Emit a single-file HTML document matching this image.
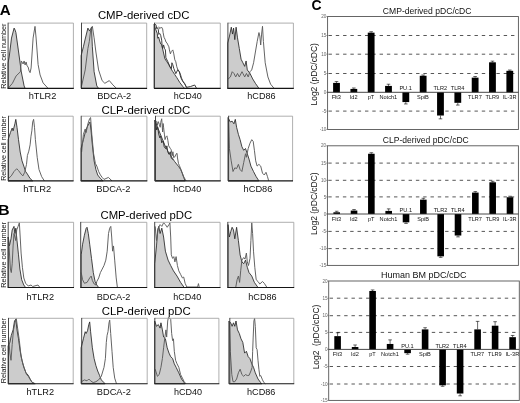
<!DOCTYPE html><html><head><meta charset="utf-8"><style>html,body{margin:0;padding:0;background:#fff;}svg{display:block;filter:blur(0.25px);}text{font-family:"Liberation Sans",sans-serif;}</style></head><body>
<svg width="520" height="403" viewBox="0 0 520 403">
<rect width="520" height="403" fill="#fff"/>
<polygon points="8.10,88.40 8.10,62.98 9.30,56.00 11.50,38.05 14.10,28.08 15.10,30.08 15.90,32.57 18.60,52.01 21.30,71.95 24.10,85.91 25.10,88.40 25.10,88.40" fill="#cccccc" stroke="#262626" stroke-width="0.85" stroke-linejoin="round"/>
<polyline points="8.10,88.40 12.40,83.32 16.10,75.94 20.40,71.75 21.30,60.98 23.10,63.97 24.10,60.98 25.10,64.97 26.10,61.98 27.10,65.97 28.10,66.97 29.10,70.95 30.10,72.65 31.10,67.96 32.10,53.01 33.10,38.05 35.00,26.39 36.10,38.05 38.10,64.57 40.10,74.94 43.10,82.92 48.10,88.40" fill="none" stroke="#5c5c5c" stroke-width="0.95" stroke-linejoin="round"/>
<path d="M8.1,23.1 H73.4 V88.4" fill="none" stroke="#9a9a9a" stroke-width="0.8"/>
<line x1="7.6" y1="88.4" x2="73.80000000000001" y2="88.4" stroke="#151515" stroke-width="1.1"/>
<line x1="8.1" y1="22.700000000000003" x2="8.1" y2="88.4" stroke="#333" stroke-width="0.9"/>
<polygon points="81.10,88.40 81.10,55.70 83.40,46.78 85.20,39.05 87.90,28.08 89.60,31.08 91.50,27.19 92.35,46.78 94.10,71.70 96.80,85.91 98.60,88.40 98.60,88.40" fill="#cccccc" stroke="#262626" stroke-width="0.85" stroke-linejoin="round"/>
<polyline points="81.60,85.91 85.20,69.96 87.90,48.52 89.30,41.44 90.60,30.78 92.35,26.29 94.10,37.85 95.90,52.01 98.60,69.96 102.10,80.62 104.85,83.32 107.10,81.92 109.30,80.62 112.90,84.91 116.50,88.40" fill="none" stroke="#5c5c5c" stroke-width="0.95" stroke-linejoin="round"/>
<path d="M81.5,23.1 H146.7 V88.4" fill="none" stroke="#9a9a9a" stroke-width="0.8"/>
<line x1="81.0" y1="88.4" x2="147.1" y2="88.4" stroke="#151515" stroke-width="1.1"/>
<line x1="81.5" y1="22.700000000000003" x2="81.5" y2="88.4" stroke="#333" stroke-width="0.9"/>
<polygon points="154.10,88.40 154.10,24.30 155.60,29.08 157.30,33.47 157.80,38.25 158.60,37.06 159.70,41.05 160.70,43.94 161.70,44.53 162.60,48.72 164.90,58.79 166.90,61.78 168.90,64.77 170.90,68.66 172.80,71.65 174.80,74.64 176.80,77.63 179.80,82.52 182.80,86.51 184.70,88.40 184.70,88.40" fill="#cccccc" stroke="#262626" stroke-width="0.85" stroke-linejoin="round"/>
<polyline points="158.80,26.69 159.70,28.68 160.70,27.69 162.10,27.69 162.60,28.68 163.10,32.47 164.00,37.26 165.00,39.15 166.00,42.04 167.00,43.04 167.90,44.93 168.90,46.83 169.40,49.92 170.40,53.91 171.30,51.51 172.80,49.92 173.80,53.91 174.80,59.79 175.80,61.78 176.80,66.77 177.80,69.66 179.80,72.65 180.80,75.44 181.80,78.63 182.80,80.92 184.70,83.51 186.70,88.40" fill="none" stroke="#5c5c5c" stroke-width="0.95" stroke-linejoin="round"/>
<polyline points="154.90,24.30 155.90,24.79 156.80,28.68 157.60,27.69 158.30,29.58 158.80,34.37 159.70,33.47 160.70,35.36 161.70,40.15 162.10,45.93 162.60,48.72 163.60,44.93 164.60,48.72 165.40,49.92 165.90,57.79 167.90,61.78 169.90,66.77 171.40,68.66 171.90,62.78 172.80,64.77 173.80,68.46 175.80,73.65 177.80,69.66 179.30,71.65 180.80,77.63 182.80,81.52 184.70,83.91 186.70,87.30 190.60,86.51 194.70,85.01 196.60,88.40" fill="none" stroke="#333" stroke-width="0.95" stroke-linejoin="round"/>
<path d="M154.5,23.1 H220.3 V88.4" fill="none" stroke="#9a9a9a" stroke-width="0.8"/>
<line x1="154.0" y1="88.4" x2="220.70000000000002" y2="88.4" stroke="#151515" stroke-width="1.1"/>
<line x1="154.5" y1="22.700000000000003" x2="154.5" y2="88.4" stroke="#333" stroke-width="0.9"/>
<polygon points="227.70,88.40 227.70,43.04 229.50,36.06 231.30,27.19 232.50,34.07 233.60,28.08 234.80,39.65 236.10,27.19 237.50,37.85 239.30,48.52 241.10,59.24 242.90,62.78 244.70,66.37 246.10,60.98 247.30,69.96 250.00,73.45 252.70,78.93 255.40,83.32 258.95,88.40 258.95,88.40" fill="#cccccc" stroke="#262626" stroke-width="0.85" stroke-linejoin="round"/>
<polyline points="228.20,78.93 230.40,76.94 232.20,71.70 233.95,73.45 235.70,76.94 237.50,73.45 239.30,76.94 242.00,71.70 242.90,73.45 244.70,76.94 246.45,73.45 248.20,76.94 250.00,71.70 251.70,69.96 253.60,62.78 255.40,52.01 257.20,41.44 258.95,32.57 259.80,36.06 260.70,45.03 261.60,34.07 262.50,26.29 263.40,41.44 265.20,62.78 267.90,76.94 270.60,84.16 274.10,88.40" fill="none" stroke="#5c5c5c" stroke-width="0.95" stroke-linejoin="round"/>
<path d="M227.9,23.1 H293.4 V88.4" fill="none" stroke="#9a9a9a" stroke-width="0.8"/>
<line x1="227.4" y1="88.4" x2="293.79999999999995" y2="88.4" stroke="#151515" stroke-width="1.1"/>
<line x1="227.9" y1="22.700000000000003" x2="227.9" y2="88.4" stroke="#333" stroke-width="0.9"/>
<polygon points="8.10,180.90 8.10,139.66 10.40,132.60 12.20,128.05 13.10,130.82 14.90,123.81 15.80,119.36 17.00,127.31 18.50,139.66 20.20,152.01 22.00,160.85 23.80,166.08 25.60,171.52 27.40,174.08 30.06,178.43 32.70,180.90 32.70,180.90" fill="#cccccc" stroke="#262626" stroke-width="0.85" stroke-linejoin="round"/>
<polyline points="8.60,178.43 11.30,175.86 14.00,171.52 16.70,168.75 18.50,170.53 21.10,174.08 22.90,175.86 24.70,172.31 26.50,164.35 27.40,155.51 28.80,151.17 30.10,144.85 31.00,136.15 31.85,130.82 32.70,122.03 33.60,119.36 34.50,127.31 35.40,139.66 37.20,157.29 39.00,169.54 41.70,176.70 44.35,180.90" fill="none" stroke="#5c5c5c" stroke-width="0.95" stroke-linejoin="round"/>
<path d="M8.5,116.2 H73.2 V180.9" fill="none" stroke="#9a9a9a" stroke-width="0.8"/>
<line x1="8.0" y1="180.9" x2="73.60000000000001" y2="180.9" stroke="#151515" stroke-width="1.1"/>
<line x1="8.5" y1="115.8" x2="8.5" y2="180.9" stroke="#333" stroke-width="0.9"/>
<polygon points="81.10,180.90 81.10,148.50 83.40,139.66 85.20,132.60 87.00,127.31 88.80,123.81 90.00,122.03 91.10,130.82 92.35,144.85 94.10,160.85 95.90,169.54 97.70,174.97 100.40,178.43 103.10,180.90 103.10,180.90" fill="#cccccc" stroke="#262626" stroke-width="0.85" stroke-linejoin="round"/>
<polyline points="81.60,152.01 83.40,134.38 85.20,128.94 86.10,132.60 87.90,123.81 89.70,118.47 90.60,117.58 91.80,134.38 93.60,153.74 95.40,163.51 96.80,166.08 98.60,171.42 100.40,174.97 102.20,177.44 104.00,179.42 108.40,177.44 112.00,180.90" fill="none" stroke="#5c5c5c" stroke-width="0.95" stroke-linejoin="round"/>
<path d="M81.2,116.2 H146.9 V180.9" fill="none" stroke="#9a9a9a" stroke-width="0.8"/>
<line x1="80.7" y1="180.9" x2="147.3" y2="180.9" stroke="#151515" stroke-width="1.1"/>
<line x1="81.2" y1="115.8" x2="81.2" y2="180.9" stroke="#333" stroke-width="0.9"/>
<polygon points="154.70,180.90 154.70,120.15 156.70,125.09 158.70,130.03 160.70,134.97 162.70,139.91 164.70,144.85 166.70,148.80 168.70,152.75 170.70,155.71 172.70,158.67 174.70,161.64 176.70,164.11 178.70,166.58 180.70,169.54 182.20,173.10 183.70,177.44 185.20,180.90 185.20,180.90" fill="#cccccc" stroke="#262626" stroke-width="0.85" stroke-linejoin="round"/>
<polyline points="155.20,120.15 156.80,121.63 157.30,125.39 158.30,121.63 159.30,124.40 160.20,127.26 160.70,122.52 161.70,118.77 162.10,124.10 162.60,132.00 163.10,123.51 163.60,127.26 164.10,132.00 164.50,134.87 165.00,139.61 166.00,136.75 166.90,135.86 167.40,137.73 167.90,140.60 168.70,145.83 170.30,148.40 171.20,149.78 172.20,155.71 172.90,151.76 173.70,157.69 174.70,157.00 176.10,154.13 177.00,153.24 177.50,157.98 178.50,163.61 179.40,165.59 180.90,169.34 182.30,173.10 183.80,176.95 185.20,179.32 186.20,180.90" fill="none" stroke="#5c5c5c" stroke-width="0.95" stroke-linejoin="round"/>
<polyline points="155.70,122.13 156.70,130.03 157.70,127.07 158.70,133.98 159.80,137.93 160.70,135.96 161.70,142.87 163.20,140.89 164.20,146.82 165.90,148.80 166.90,145.83 167.70,151.76 168.90,154.23 170.30,151.76 171.20,157.69 172.70,159.66" fill="none" stroke="#333" stroke-width="0.95" stroke-linejoin="round"/>
<path d="M155.5,116.2 H220.3 V180.9" fill="none" stroke="#9a9a9a" stroke-width="0.8"/>
<line x1="155.0" y1="180.9" x2="220.70000000000002" y2="180.9" stroke="#151515" stroke-width="1.1"/>
<line x1="155.5" y1="115.8" x2="155.5" y2="180.9" stroke="#333" stroke-width="0.9"/>
<polygon points="228.00,180.90 228.00,117.58 230.30,122.03 232.10,121.14 233.90,123.81 235.30,119.36 236.60,127.31 238.40,134.38 240.10,139.66 241.90,146.72 243.70,150.28 245.50,148.50 247.30,153.74 249.00,159.07 250.90,166.08 253.50,171.52 256.20,176.70 258.90,180.90 258.90,180.90" fill="#cccccc" stroke="#262626" stroke-width="0.85" stroke-linejoin="round"/>
<polyline points="228.50,118.18 229.40,148.50 231.20,160.85 233.00,171.52 234.80,167.86 236.60,168.55 238.40,164.35 240.10,169.54 241.90,171.52 243.70,162.63 245.50,153.74 246.40,157.29 248.20,148.50 250.00,143.17 251.75,139.66 253.20,141.39 254.40,150.28 255.70,160.85 257.10,166.08 258.90,164.35 260.70,166.08 262.50,173.20 264.25,174.97 266.00,172.31 267.50,176.70 268.70,180.90" fill="none" stroke="#5c5c5c" stroke-width="0.95" stroke-linejoin="round"/>
<path d="M228.6,116.2 H292.6 V180.9" fill="none" stroke="#9a9a9a" stroke-width="0.8"/>
<line x1="228.1" y1="180.9" x2="293.0" y2="180.9" stroke="#151515" stroke-width="1.1"/>
<line x1="228.6" y1="115.8" x2="228.6" y2="180.9" stroke="#333" stroke-width="0.9"/>
<polygon points="8.10,287.50 8.10,237.03 9.40,245.94 11.00,238.82 12.20,229.96 14.00,226.38 14.90,233.50 15.80,228.17 17.00,240.62 18.50,254.85 19.90,269.08 21.70,279.74 23.80,285.01 25.60,287.50 25.60,287.50" fill="#cccccc" stroke="#262626" stroke-width="0.85" stroke-linejoin="round"/>
<polyline points="8.60,238.82 10.40,269.08 11.30,272.57 12.20,263.71 13.10,245.94 14.00,233.50 15.80,240.62 16.70,229.96 18.10,226.38 19.35,222.80 20.20,237.03 21.10,253.06 22.40,267.29 23.80,277.94 25.60,283.27 28.30,286.01 31.00,285.01 32.70,286.50 38.00,285.01 39.90,287.50" fill="none" stroke="#5c5c5c" stroke-width="0.95" stroke-linejoin="round"/>
<path d="M8.2,222.3 H73.6 V287.5" fill="none" stroke="#9a9a9a" stroke-width="0.8"/>
<line x1="7.699999999999999" y1="287.5" x2="74.0" y2="287.5" stroke="#151515" stroke-width="1.1"/>
<line x1="8.2" y1="221.9" x2="8.2" y2="287.5" stroke="#333" stroke-width="0.9"/>
<polygon points="81.20,287.50 81.20,254.85 82.60,244.20 84.40,235.24 86.20,228.17 87.05,227.28 88.30,233.50 89.70,244.20 91.50,258.38 93.30,272.57 95.10,281.53 96.80,285.01 98.70,287.50 98.70,287.50" fill="#cccccc" stroke="#262626" stroke-width="0.85" stroke-linejoin="round"/>
<polyline points="81.20,272.57 82.60,279.74 84.40,283.27 87.05,282.42 89.70,277.94 91.20,276.05 92.40,280.63 94.20,284.02 96.00,285.01 96.80,281.53 98.70,277.94 100.40,272.57 102.20,269.08 104.00,265.50 105.80,260.13 107.20,251.17 108.50,233.50 109.70,228.17 110.80,226.38 111.70,237.03 112.60,251.17 113.50,245.94 114.70,260.13 116.20,277.94 117.40,287.50" fill="none" stroke="#5c5c5c" stroke-width="0.95" stroke-linejoin="round"/>
<path d="M80.7,222.3 H146.8 V287.5" fill="none" stroke="#9a9a9a" stroke-width="0.8"/>
<line x1="80.2" y1="287.5" x2="147.20000000000002" y2="287.5" stroke="#151515" stroke-width="1.1"/>
<line x1="80.7" y1="221.9" x2="80.7" y2="287.5" stroke="#333" stroke-width="0.9"/>
<polygon points="154.70,287.50 154.70,263.71 156.50,245.94 157.70,229.96 158.80,226.38 160.10,233.50 161.80,228.17 163.60,237.03 165.40,251.17 168.10,260.13 170.70,265.50 173.45,270.83 177.00,276.05 180.60,282.42 184.20,287.50 184.20,287.50" fill="#cccccc" stroke="#262626" stroke-width="0.85" stroke-linejoin="round"/>
<polyline points="155.20,226.38 156.50,240.62 158.30,228.17 160.10,224.59 161.80,226.38 163.60,222.80 165.40,224.59 167.20,227.28 169.00,224.59 169.90,222.80 170.70,237.03 171.30,254.85 172.60,258.38 173.80,256.64 174.90,261.92 176.10,256.64 177.40,265.50 178.80,270.83 180.60,274.36 182.40,277.94 183.70,277.05 185.10,283.27 186.80,287.00 197.60,287.00 198.45,283.62 199.30,287.50" fill="none" stroke="#5c5c5c" stroke-width="0.95" stroke-linejoin="round"/>
<path d="M154.7,222.3 H220.1 V287.5" fill="none" stroke="#9a9a9a" stroke-width="0.8"/>
<line x1="154.2" y1="287.5" x2="220.5" y2="287.5" stroke="#151515" stroke-width="1.1"/>
<line x1="154.7" y1="221.9" x2="154.7" y2="287.5" stroke="#333" stroke-width="0.9"/>
<polygon points="228.00,287.50 228.00,224.59 229.40,237.03 230.70,231.76 232.10,227.28 233.50,229.96 234.80,238.82 236.60,227.28 238.40,240.62 240.10,254.85 241.90,261.92 243.70,263.71 245.50,260.13 247.30,267.29 249.00,272.57 251.75,276.05 254.40,282.42 258.00,287.50 258.00,287.50" fill="#cccccc" stroke="#262626" stroke-width="0.85" stroke-linejoin="round"/>
<polyline points="235.70,287.50 237.10,279.74 238.40,276.05 239.60,282.42 240.70,270.83 241.90,260.13 243.70,257.54 245.00,259.13 246.40,253.06 247.30,261.92 248.50,265.50 250.00,258.38 250.90,240.62 251.75,222.80 252.60,233.50 253.50,251.17 254.80,267.29 256.20,279.74 258.00,281.53 259.80,284.02 262.50,281.53 264.25,283.27 267.00,287.50" fill="none" stroke="#5c5c5c" stroke-width="0.95" stroke-linejoin="round"/>
<path d="M227.8,222.3 H293.8 V287.5" fill="none" stroke="#9a9a9a" stroke-width="0.8"/>
<line x1="227.3" y1="287.5" x2="294.2" y2="287.5" stroke="#151515" stroke-width="1.1"/>
<line x1="227.8" y1="221.9" x2="227.8" y2="287.5" stroke="#333" stroke-width="0.9"/>
<polygon points="8.10,383.80 8.10,346.00 9.90,342.30 11.30,335.30 13.10,329.90 14.50,321.00 15.80,319.20 17.00,329.90 18.50,338.80 20.20,351.30 22.00,360.30 23.80,367.30 26.00,372.80 28.30,375.30 30.06,379.00 31.85,382.05 34.50,383.80 34.50,383.80" fill="#cccccc" stroke="#262626" stroke-width="0.85" stroke-linejoin="round"/>
<polyline points="8.60,337.05 9.90,353.10 11.00,360.30 12.20,344.30 13.50,329.90 14.90,322.80 16.30,318.60 17.60,328.10 19.35,340.60 21.10,356.70 22.90,363.80 24.70,369.20 26.50,374.55 28.30,376.30 30.06,379.00 31.85,382.05 35.40,383.80" fill="none" stroke="#5c5c5c" stroke-width="0.95" stroke-linejoin="round"/>
<path d="M8.5,318.3 H73.2 V383.8" fill="none" stroke="#9a9a9a" stroke-width="0.8"/>
<line x1="8.0" y1="383.8" x2="73.60000000000001" y2="383.8" stroke="#151515" stroke-width="1.1"/>
<line x1="8.5" y1="317.90000000000003" x2="8.5" y2="383.8" stroke="#333" stroke-width="0.9"/>
<polygon points="81.10,383.80 81.10,347.80 83.40,338.80 85.20,331.70 86.10,333.50 87.50,330.80 88.80,324.55 89.70,321.90 90.60,331.70 92.35,347.80 94.10,358.50 95.90,365.60 97.70,371.00 99.50,375.30 101.30,379.90 104.00,382.60 105.10,383.80 105.10,383.80" fill="#cccccc" stroke="#262626" stroke-width="0.85" stroke-linejoin="round"/>
<polyline points="81.60,381.70 84.30,379.90 87.00,380.80 88.80,379.00 90.60,380.80 93.20,382.60 95.90,381.70 98.60,379.90 101.30,376.30 104.00,367.30 105.40,358.50 106.30,342.40 107.10,335.30 108.00,331.70 109.00,322.80 109.70,320.10 110.70,333.50 112.00,351.30 113.20,367.30 114.70,378.10 116.50,383.80" fill="none" stroke="#5c5c5c" stroke-width="0.95" stroke-linejoin="round"/>
<path d="M81.7,318.3 H147.2 V383.8" fill="none" stroke="#9a9a9a" stroke-width="0.8"/>
<line x1="81.2" y1="383.8" x2="147.6" y2="383.8" stroke="#151515" stroke-width="1.1"/>
<line x1="81.7" y1="317.90000000000003" x2="81.7" y2="383.8" stroke="#333" stroke-width="0.9"/>
<polygon points="154.70,383.80 154.70,321.00 156.50,326.30 158.30,324.55 160.10,328.10 160.95,322.80 162.40,329.90 163.60,337.05 165.40,338.80 167.20,347.80 169.00,353.10 170.70,356.70 172.60,358.50 174.30,363.80 176.10,367.30 178.80,372.80 181.50,379.00 185.10,383.80 185.10,383.80" fill="#cccccc" stroke="#262626" stroke-width="0.85" stroke-linejoin="round"/>
<polyline points="155.20,369.20 157.40,376.30 159.20,374.55 160.95,367.30 162.40,358.50 163.60,347.80 164.90,337.05 165.95,329.90 166.66,337.05 167.70,321.00 168.45,317.30 169.90,318.30 170.70,319.20 171.66,333.50 172.60,340.60 173.45,338.80 174.30,351.30 175.60,360.30 177.00,363.80 178.80,367.30 180.60,374.55 182.40,378.10 184.20,381.70 185.95,383.80" fill="none" stroke="#5c5c5c" stroke-width="0.95" stroke-linejoin="round"/>
<path d="M154.8,318.3 H218.9 V383.8" fill="none" stroke="#9a9a9a" stroke-width="0.8"/>
<line x1="154.3" y1="383.8" x2="219.3" y2="383.8" stroke="#151515" stroke-width="1.1"/>
<line x1="154.8" y1="317.90000000000003" x2="154.8" y2="383.8" stroke="#333" stroke-width="0.9"/>
<polygon points="228.90,383.80 228.90,321.00 230.70,322.80 232.10,326.30 233.50,322.80 234.80,326.30 236.00,321.00 237.50,329.90 239.30,333.50 241.00,338.80 242.80,342.40 244.60,353.10 246.40,351.30 248.20,356.70 249.90,358.50 251.80,363.80 253.50,367.30 255.30,372.80 258.00,379.00 260.70,382.60 261.90,383.80 261.90,383.80" fill="#cccccc" stroke="#262626" stroke-width="0.85" stroke-linejoin="round"/>
<polyline points="229.40,321.00 230.30,351.30 231.80,374.55 233.00,381.70 234.80,381.70 236.60,379.00 238.40,372.80 240.15,369.20 241.90,374.55 243.70,376.30 245.50,374.55 247.30,375.50 249.10,375.30 250.90,371.00 252.10,367.30 252.65,351.30 253.20,337.05 253.90,321.00 254.60,318.30 255.30,326.30 256.20,347.80 257.10,349.60 258.00,360.30 258.90,369.20 259.80,376.30 260.70,375.50 262.50,379.90 263.90,382.60 265.40,383.80" fill="none" stroke="#5c5c5c" stroke-width="0.95" stroke-linejoin="round"/>
<path d="M229.8,318.3 H293.8 V383.8" fill="none" stroke="#9a9a9a" stroke-width="0.8"/>
<line x1="229.3" y1="383.8" x2="294.2" y2="383.8" stroke="#151515" stroke-width="1.1"/>
<line x1="229.8" y1="317.90000000000003" x2="229.8" y2="383.8" stroke="#333" stroke-width="0.9"/>
<line x1="328.5" y1="35.50" x2="518.4" y2="35.50" stroke="#444" stroke-width="0.9" stroke-dasharray="3.4 3.9"/>
<line x1="328.5" y1="54.20" x2="518.4" y2="54.20" stroke="#444" stroke-width="0.9" stroke-dasharray="3.4 3.9"/>
<line x1="328.5" y1="73.50" x2="518.4" y2="73.50" stroke="#444" stroke-width="0.9" stroke-dasharray="3.4 3.9"/>
<line x1="328.5" y1="111.10" x2="518.4" y2="111.10" stroke="#444" stroke-width="0.9" stroke-dasharray="3.4 3.9"/>
<rect x="327.6" y="16.55" width="190.80" height="112.95" fill="none" stroke="#555" stroke-width="0.9"/>
<text x="326.40000000000003" y="18.15" font-size="4.6" text-anchor="end" fill="#666">20</text>
<line x1="326.40000000000003" y1="16.55" x2="327.6" y2="16.55" stroke="#555" stroke-width="0.6"/>
<text x="326.40000000000003" y="37.10" font-size="4.6" text-anchor="end" fill="#666">15</text>
<line x1="326.40000000000003" y1="35.50" x2="327.6" y2="35.50" stroke="#555" stroke-width="0.6"/>
<text x="326.40000000000003" y="55.80" font-size="4.6" text-anchor="end" fill="#666">10</text>
<line x1="326.40000000000003" y1="54.20" x2="327.6" y2="54.20" stroke="#555" stroke-width="0.6"/>
<text x="326.40000000000003" y="75.10" font-size="4.6" text-anchor="end" fill="#666">5</text>
<line x1="326.40000000000003" y1="73.50" x2="327.6" y2="73.50" stroke="#555" stroke-width="0.6"/>
<text x="326.40000000000003" y="93.90" font-size="4.6" text-anchor="end" fill="#666">0</text>
<line x1="326.40000000000003" y1="92.30" x2="327.6" y2="92.30" stroke="#555" stroke-width="0.6"/>
<text x="326.40000000000003" y="112.70" font-size="4.6" text-anchor="end" fill="#666">-5</text>
<line x1="326.40000000000003" y1="111.10" x2="327.6" y2="111.10" stroke="#555" stroke-width="0.6"/>
<text x="326.40000000000003" y="131.10" font-size="4.6" text-anchor="end" fill="#666">-10</text>
<line x1="326.40000000000003" y1="129.50" x2="327.6" y2="129.50" stroke="#555" stroke-width="0.6"/>
<rect x="333.10" y="82.90" width="6.8" height="9.40" fill="#000"/>
<line x1="336.50" y1="82.90" x2="336.50" y2="81.58" stroke="#000" stroke-width="0.6"/>
<line x1="334.70" y1="81.58" x2="338.30" y2="81.58" stroke="#000" stroke-width="0.6"/>
<text x="336.30" y="98.80" font-size="5.6" text-anchor="middle" fill="#111">Flt3</text>
<rect x="350.43" y="88.92" width="6.8" height="3.38" fill="#000"/>
<line x1="353.83" y1="88.92" x2="353.83" y2="87.98" stroke="#000" stroke-width="0.6"/>
<line x1="352.03" y1="87.98" x2="355.63" y2="87.98" stroke="#000" stroke-width="0.6"/>
<text x="353.63" y="98.80" font-size="5.6" text-anchor="middle" fill="#111">Id2</text>
<rect x="367.76" y="32.66" width="6.8" height="59.64" fill="#000"/>
<line x1="371.16" y1="32.66" x2="371.16" y2="31.71" stroke="#000" stroke-width="0.6"/>
<line x1="369.36" y1="31.71" x2="372.96" y2="31.71" stroke="#000" stroke-width="0.6"/>
<text x="370.96" y="98.80" font-size="5.6" text-anchor="middle" fill="#111">pT</text>
<rect x="385.09" y="85.91" width="6.8" height="6.39" fill="#000"/>
<line x1="388.49" y1="85.91" x2="388.49" y2="84.22" stroke="#000" stroke-width="0.6"/>
<line x1="386.69" y1="84.22" x2="390.29" y2="84.22" stroke="#000" stroke-width="0.6"/>
<text x="388.29" y="98.80" font-size="5.6" text-anchor="middle" fill="#111">Notch1</text>
<rect x="402.42" y="92.30" width="6.8" height="9.78" fill="#000"/>
<line x1="405.82" y1="102.08" x2="405.82" y2="103.96" stroke="#000" stroke-width="0.6"/>
<line x1="404.02" y1="103.96" x2="407.62" y2="103.96" stroke="#000" stroke-width="0.6"/>
<text x="405.62" y="90.30" font-size="5.6" text-anchor="middle" fill="#111">PU.1</text>
<rect x="419.75" y="75.76" width="6.8" height="16.54" fill="#000"/>
<line x1="423.15" y1="75.76" x2="423.15" y2="75.00" stroke="#000" stroke-width="0.6"/>
<line x1="421.35" y1="75.00" x2="424.95" y2="75.00" stroke="#000" stroke-width="0.6"/>
<text x="422.95" y="98.80" font-size="5.6" text-anchor="middle" fill="#111">SpiB</text>
<rect x="437.08" y="92.30" width="6.8" height="23.22" fill="#000"/>
<line x1="440.48" y1="115.52" x2="440.48" y2="118.83" stroke="#000" stroke-width="0.6"/>
<line x1="438.68" y1="118.83" x2="442.28" y2="118.83" stroke="#000" stroke-width="0.6"/>
<text x="440.28" y="90.30" font-size="5.6" text-anchor="middle" fill="#111">TLR2</text>
<rect x="454.41" y="92.30" width="6.8" height="10.53" fill="#000"/>
<line x1="457.81" y1="102.83" x2="457.81" y2="105.08" stroke="#000" stroke-width="0.6"/>
<line x1="456.01" y1="105.08" x2="459.61" y2="105.08" stroke="#000" stroke-width="0.6"/>
<text x="457.61" y="90.30" font-size="5.6" text-anchor="middle" fill="#111">TLR4</text>
<rect x="471.74" y="77.64" width="6.8" height="14.66" fill="#000"/>
<line x1="475.14" y1="77.64" x2="475.14" y2="76.51" stroke="#000" stroke-width="0.6"/>
<line x1="473.34" y1="76.51" x2="476.94" y2="76.51" stroke="#000" stroke-width="0.6"/>
<text x="474.94" y="98.80" font-size="5.6" text-anchor="middle" fill="#111">TLR7</text>
<rect x="489.07" y="62.31" width="6.8" height="29.99" fill="#000"/>
<line x1="492.47" y1="62.31" x2="492.47" y2="61.15" stroke="#000" stroke-width="0.6"/>
<line x1="490.67" y1="61.15" x2="494.27" y2="61.15" stroke="#000" stroke-width="0.6"/>
<text x="492.27" y="98.80" font-size="5.6" text-anchor="middle" fill="#111">TLR9</text>
<rect x="506.40" y="70.80" width="6.8" height="21.50" fill="#000"/>
<line x1="509.80" y1="70.80" x2="509.80" y2="70.03" stroke="#000" stroke-width="0.6"/>
<line x1="508.00" y1="70.03" x2="511.60" y2="70.03" stroke="#000" stroke-width="0.6"/>
<text x="509.60" y="98.80" font-size="5.6" text-anchor="middle" fill="#111">IL-3R</text>
<line x1="327.6" y1="92.30" x2="518.4" y2="92.30" stroke="#333" stroke-width="0.9"/>
<line x1="328.29999999999995" y1="163.10" x2="518.4" y2="163.10" stroke="#444" stroke-width="0.9" stroke-dasharray="3.4 3.9"/>
<line x1="328.29999999999995" y1="180.30" x2="518.4" y2="180.30" stroke="#444" stroke-width="0.9" stroke-dasharray="3.4 3.9"/>
<line x1="328.29999999999995" y1="196.90" x2="518.4" y2="196.90" stroke="#444" stroke-width="0.9" stroke-dasharray="3.4 3.9"/>
<line x1="328.29999999999995" y1="231.40" x2="518.4" y2="231.40" stroke="#444" stroke-width="0.9" stroke-dasharray="3.4 3.9"/>
<line x1="328.29999999999995" y1="248.60" x2="518.4" y2="248.60" stroke="#444" stroke-width="0.9" stroke-dasharray="3.4 3.9"/>
<rect x="327.4" y="145.8" width="191.00" height="119.60" fill="none" stroke="#555" stroke-width="0.9"/>
<text x="326.2" y="147.40" font-size="4.6" text-anchor="end" fill="#666">20</text>
<line x1="326.2" y1="145.80" x2="327.4" y2="145.80" stroke="#555" stroke-width="0.6"/>
<text x="326.2" y="164.70" font-size="4.6" text-anchor="end" fill="#666">15</text>
<line x1="326.2" y1="163.10" x2="327.4" y2="163.10" stroke="#555" stroke-width="0.6"/>
<text x="326.2" y="181.90" font-size="4.6" text-anchor="end" fill="#666">10</text>
<line x1="326.2" y1="180.30" x2="327.4" y2="180.30" stroke="#555" stroke-width="0.6"/>
<text x="326.2" y="198.50" font-size="4.6" text-anchor="end" fill="#666">5</text>
<line x1="326.2" y1="196.90" x2="327.4" y2="196.90" stroke="#555" stroke-width="0.6"/>
<text x="326.2" y="215.60" font-size="4.6" text-anchor="end" fill="#666">0</text>
<line x1="326.2" y1="214.00" x2="327.4" y2="214.00" stroke="#555" stroke-width="0.6"/>
<text x="326.2" y="233.00" font-size="4.6" text-anchor="end" fill="#666">-5</text>
<line x1="326.2" y1="231.40" x2="327.4" y2="231.40" stroke="#555" stroke-width="0.6"/>
<text x="326.2" y="250.20" font-size="4.6" text-anchor="end" fill="#666">-10</text>
<line x1="326.2" y1="248.60" x2="327.4" y2="248.60" stroke="#555" stroke-width="0.6"/>
<text x="326.2" y="267.00" font-size="4.6" text-anchor="end" fill="#666">-15</text>
<line x1="326.2" y1="265.40" x2="327.4" y2="265.40" stroke="#555" stroke-width="0.6"/>
<rect x="333.40" y="212.29" width="6.6" height="1.71" fill="#000"/>
<line x1="336.70" y1="212.29" x2="336.70" y2="211.26" stroke="#000" stroke-width="0.6"/>
<line x1="334.90" y1="211.26" x2="338.50" y2="211.26" stroke="#000" stroke-width="0.6"/>
<text x="336.50" y="220.50" font-size="5.6" text-anchor="middle" fill="#111">Flt3</text>
<rect x="350.73" y="210.58" width="6.6" height="3.42" fill="#000"/>
<line x1="354.03" y1="210.58" x2="354.03" y2="209.55" stroke="#000" stroke-width="0.6"/>
<line x1="352.23" y1="209.55" x2="355.83" y2="209.55" stroke="#000" stroke-width="0.6"/>
<text x="353.83" y="220.50" font-size="5.6" text-anchor="middle" fill="#111">Id2</text>
<rect x="368.06" y="153.76" width="6.6" height="60.24" fill="#000"/>
<line x1="371.36" y1="153.76" x2="371.36" y2="152.72" stroke="#000" stroke-width="0.6"/>
<line x1="369.56" y1="152.72" x2="373.16" y2="152.72" stroke="#000" stroke-width="0.6"/>
<text x="371.16" y="220.50" font-size="5.6" text-anchor="middle" fill="#111">pT</text>
<rect x="385.39" y="210.92" width="6.6" height="3.08" fill="#000"/>
<line x1="388.69" y1="210.92" x2="388.69" y2="208.87" stroke="#000" stroke-width="0.6"/>
<line x1="386.89" y1="208.87" x2="390.49" y2="208.87" stroke="#000" stroke-width="0.6"/>
<text x="388.49" y="220.50" font-size="5.6" text-anchor="middle" fill="#111">Notch1</text>
<rect x="402.72" y="214.00" width="6.6" height="8.35" fill="#000"/>
<line x1="406.02" y1="222.35" x2="406.02" y2="223.40" stroke="#000" stroke-width="0.6"/>
<line x1="404.22" y1="223.40" x2="407.82" y2="223.40" stroke="#000" stroke-width="0.6"/>
<text x="405.82" y="212.40" font-size="5.6" text-anchor="middle" fill="#111">PU.1</text>
<rect x="420.05" y="199.64" width="6.6" height="14.36" fill="#000"/>
<line x1="423.35" y1="199.64" x2="423.35" y2="198.27" stroke="#000" stroke-width="0.6"/>
<line x1="421.55" y1="198.27" x2="425.15" y2="198.27" stroke="#000" stroke-width="0.6"/>
<text x="423.15" y="220.50" font-size="5.6" text-anchor="middle" fill="#111">SpiB</text>
<rect x="437.38" y="214.00" width="6.6" height="42.33" fill="#000"/>
<line x1="440.68" y1="256.33" x2="440.68" y2="257.34" stroke="#000" stroke-width="0.6"/>
<line x1="438.88" y1="257.34" x2="442.48" y2="257.34" stroke="#000" stroke-width="0.6"/>
<text x="440.48" y="212.40" font-size="5.6" text-anchor="middle" fill="#111">TLR2</text>
<rect x="454.71" y="214.00" width="6.6" height="21.53" fill="#000"/>
<line x1="458.01" y1="235.53" x2="458.01" y2="236.90" stroke="#000" stroke-width="0.6"/>
<line x1="456.21" y1="236.90" x2="459.81" y2="236.90" stroke="#000" stroke-width="0.6"/>
<text x="457.81" y="212.40" font-size="5.6" text-anchor="middle" fill="#111">TLR4</text>
<rect x="472.04" y="192.58" width="6.6" height="21.42" fill="#000"/>
<line x1="475.34" y1="192.58" x2="475.34" y2="191.59" stroke="#000" stroke-width="0.6"/>
<line x1="473.54" y1="191.59" x2="477.14" y2="191.59" stroke="#000" stroke-width="0.6"/>
<text x="475.14" y="220.50" font-size="5.6" text-anchor="middle" fill="#111">TLR7</text>
<rect x="489.37" y="182.29" width="6.6" height="31.71" fill="#000"/>
<line x1="492.67" y1="182.29" x2="492.67" y2="181.30" stroke="#000" stroke-width="0.6"/>
<line x1="490.87" y1="181.30" x2="494.47" y2="181.30" stroke="#000" stroke-width="0.6"/>
<text x="492.47" y="220.50" font-size="5.6" text-anchor="middle" fill="#111">TLR9</text>
<rect x="506.70" y="197.24" width="6.6" height="16.76" fill="#000"/>
<line x1="510.00" y1="197.24" x2="510.00" y2="196.24" stroke="#000" stroke-width="0.6"/>
<line x1="508.20" y1="196.24" x2="511.80" y2="196.24" stroke="#000" stroke-width="0.6"/>
<text x="509.80" y="220.50" font-size="5.6" text-anchor="middle" fill="#111">IL-3R</text>
<line x1="327.4" y1="214.00" x2="518.4" y2="214.00" stroke="#333" stroke-width="0.9"/>
<line x1="329.59999999999997" y1="298.20" x2="519.3" y2="298.20" stroke="#444" stroke-width="0.9" stroke-dasharray="3.4 3.9"/>
<line x1="329.59999999999997" y1="315.70" x2="519.3" y2="315.70" stroke="#444" stroke-width="0.9" stroke-dasharray="3.4 3.9"/>
<line x1="329.59999999999997" y1="332.40" x2="519.3" y2="332.40" stroke="#444" stroke-width="0.9" stroke-dasharray="3.4 3.9"/>
<line x1="329.59999999999997" y1="366.50" x2="519.3" y2="366.50" stroke="#444" stroke-width="0.9" stroke-dasharray="3.4 3.9"/>
<line x1="329.59999999999997" y1="384.00" x2="519.3" y2="384.00" stroke="#444" stroke-width="0.9" stroke-dasharray="3.4 3.9"/>
<rect x="328.7" y="281.0" width="190.60" height="119.40" fill="none" stroke="#555" stroke-width="0.9"/>
<text x="327.5" y="282.60" font-size="4.6" text-anchor="end" fill="#666">20</text>
<line x1="327.5" y1="281.00" x2="328.7" y2="281.00" stroke="#555" stroke-width="0.6"/>
<text x="327.5" y="299.80" font-size="4.6" text-anchor="end" fill="#666">15</text>
<line x1="327.5" y1="298.20" x2="328.7" y2="298.20" stroke="#555" stroke-width="0.6"/>
<text x="327.5" y="317.30" font-size="4.6" text-anchor="end" fill="#666">10</text>
<line x1="327.5" y1="315.70" x2="328.7" y2="315.70" stroke="#555" stroke-width="0.6"/>
<text x="327.5" y="334.00" font-size="4.6" text-anchor="end" fill="#666">5</text>
<line x1="327.5" y1="332.40" x2="328.7" y2="332.40" stroke="#555" stroke-width="0.6"/>
<text x="327.5" y="351.00" font-size="4.6" text-anchor="end" fill="#666">0</text>
<line x1="327.5" y1="349.40" x2="328.7" y2="349.40" stroke="#555" stroke-width="0.6"/>
<text x="327.5" y="368.10" font-size="4.6" text-anchor="end" fill="#666">-5</text>
<line x1="327.5" y1="366.50" x2="328.7" y2="366.50" stroke="#555" stroke-width="0.6"/>
<text x="327.5" y="385.60" font-size="4.6" text-anchor="end" fill="#666">-10</text>
<line x1="327.5" y1="384.00" x2="328.7" y2="384.00" stroke="#555" stroke-width="0.6"/>
<text x="327.5" y="402.00" font-size="4.6" text-anchor="end" fill="#666">-15</text>
<line x1="327.5" y1="400.40" x2="328.7" y2="400.40" stroke="#555" stroke-width="0.6"/>
<rect x="334.30" y="336.14" width="6.6" height="13.26" fill="#000"/>
<line x1="337.60" y1="336.14" x2="337.60" y2="332.74" stroke="#000" stroke-width="0.6"/>
<line x1="335.80" y1="332.74" x2="339.40" y2="332.74" stroke="#000" stroke-width="0.6"/>
<text x="337.40" y="355.90" font-size="5.6" text-anchor="middle" fill="#111">Flt3</text>
<rect x="351.80" y="347.02" width="6.6" height="2.38" fill="#000"/>
<line x1="355.10" y1="347.02" x2="355.10" y2="344.98" stroke="#000" stroke-width="0.6"/>
<line x1="353.30" y1="344.98" x2="356.90" y2="344.98" stroke="#000" stroke-width="0.6"/>
<text x="354.90" y="355.90" font-size="5.6" text-anchor="middle" fill="#111">Id2</text>
<rect x="369.30" y="290.98" width="6.6" height="58.42" fill="#000"/>
<line x1="372.60" y1="290.98" x2="372.60" y2="289.94" stroke="#000" stroke-width="0.6"/>
<line x1="370.80" y1="289.94" x2="374.40" y2="289.94" stroke="#000" stroke-width="0.6"/>
<text x="372.40" y="355.90" font-size="5.6" text-anchor="middle" fill="#111">pT</text>
<rect x="386.80" y="343.96" width="6.6" height="5.44" fill="#000"/>
<line x1="390.10" y1="343.96" x2="390.10" y2="339.88" stroke="#000" stroke-width="0.6"/>
<line x1="388.30" y1="339.88" x2="391.90" y2="339.88" stroke="#000" stroke-width="0.6"/>
<text x="389.90" y="355.90" font-size="5.6" text-anchor="middle" fill="#111">Notch1</text>
<rect x="404.30" y="349.40" width="6.6" height="3.76" fill="#000"/>
<line x1="407.60" y1="353.16" x2="407.60" y2="354.19" stroke="#000" stroke-width="0.6"/>
<line x1="405.80" y1="354.19" x2="409.40" y2="354.19" stroke="#000" stroke-width="0.6"/>
<text x="407.40" y="348.30" font-size="5.6" text-anchor="middle" fill="#111">PU.1</text>
<rect x="421.80" y="329.39" width="6.6" height="20.01" fill="#000"/>
<line x1="425.10" y1="329.39" x2="425.10" y2="327.72" stroke="#000" stroke-width="0.6"/>
<line x1="423.30" y1="327.72" x2="426.90" y2="327.72" stroke="#000" stroke-width="0.6"/>
<text x="424.90" y="355.90" font-size="5.6" text-anchor="middle" fill="#111">SpiB</text>
<rect x="439.30" y="349.40" width="6.6" height="35.91" fill="#000"/>
<line x1="442.60" y1="385.31" x2="442.60" y2="386.30" stroke="#000" stroke-width="0.6"/>
<line x1="440.80" y1="386.30" x2="444.40" y2="386.30" stroke="#000" stroke-width="0.6"/>
<text x="442.40" y="348.30" font-size="5.6" text-anchor="middle" fill="#111">TLR2</text>
<rect x="456.80" y="349.40" width="6.6" height="44.11" fill="#000"/>
<line x1="460.10" y1="393.51" x2="460.10" y2="395.81" stroke="#000" stroke-width="0.6"/>
<line x1="458.30" y1="395.81" x2="461.90" y2="395.81" stroke="#000" stroke-width="0.6"/>
<text x="459.90" y="348.30" font-size="5.6" text-anchor="middle" fill="#111">TLR4</text>
<rect x="474.30" y="329.39" width="6.6" height="20.01" fill="#000"/>
<line x1="477.60" y1="329.39" x2="477.60" y2="321.38" stroke="#000" stroke-width="0.6"/>
<line x1="475.80" y1="321.38" x2="479.40" y2="321.38" stroke="#000" stroke-width="0.6"/>
<text x="477.40" y="355.90" font-size="5.6" text-anchor="middle" fill="#111">TLR7</text>
<rect x="491.80" y="325.72" width="6.6" height="23.68" fill="#000"/>
<line x1="495.10" y1="325.72" x2="495.10" y2="321.71" stroke="#000" stroke-width="0.6"/>
<line x1="493.30" y1="321.71" x2="496.90" y2="321.71" stroke="#000" stroke-width="0.6"/>
<text x="494.90" y="355.90" font-size="5.6" text-anchor="middle" fill="#111">TLR9</text>
<rect x="509.30" y="337.16" width="6.6" height="12.24" fill="#000"/>
<line x1="512.60" y1="337.16" x2="512.60" y2="335.46" stroke="#000" stroke-width="0.6"/>
<line x1="510.80" y1="335.46" x2="514.40" y2="335.46" stroke="#000" stroke-width="0.6"/>
<text x="512.40" y="355.90" font-size="5.6" text-anchor="middle" fill="#111">IL-3R</text>
<line x1="328.7" y1="349.40" x2="519.3" y2="349.40" stroke="#333" stroke-width="0.9"/>
<text x="-0.25" y="14.60" font-size="14.5" font-weight="bold" fill="#000" textLength="10.93" lengthAdjust="spacingAndGlyphs">A</text>
<text x="-2.00" y="214.60" font-size="14.5" font-weight="bold" fill="#000" textLength="11.63" lengthAdjust="spacingAndGlyphs">B</text>
<text x="311.50" y="10.30" font-size="14.5" font-weight="bold" fill="#000" textLength="10.08" lengthAdjust="spacingAndGlyphs">C</text>
<text x="97.90" y="18.80" font-size="10.0" font-weight="normal" fill="#000" textLength="91.63" lengthAdjust="spacingAndGlyphs">CMP-derived cDC</text>
<text x="101.40" y="114.10" font-size="10.0" font-weight="normal" fill="#000" textLength="88.81" lengthAdjust="spacingAndGlyphs">CLP-derived cDC</text>
<text x="100.50" y="218.50" font-size="10.0" font-weight="normal" fill="#000" textLength="91.69" lengthAdjust="spacingAndGlyphs">CMP-derived pDC</text>
<text x="101.70" y="314.70" font-size="10.0" font-weight="normal" fill="#000" textLength="89.08" lengthAdjust="spacingAndGlyphs">CLP-derived pDC</text>
<text x="28.70" y="99.00" font-size="8.9" font-weight="normal" fill="#111" textLength="27.64" lengthAdjust="spacingAndGlyphs">hTLR2</text>
<text x="97.15" y="99.00" font-size="8.9" font-weight="normal" fill="#111" textLength="34.16" lengthAdjust="spacingAndGlyphs">BDCA-2</text>
<text x="173.70" y="99.00" font-size="8.9" font-weight="normal" fill="#111" textLength="28.04" lengthAdjust="spacingAndGlyphs">hCD40</text>
<text x="247.30" y="99.00" font-size="8.9" font-weight="normal" fill="#111" textLength="28.29" lengthAdjust="spacingAndGlyphs">hCD86</text>
<text x="23.15" y="191.70" font-size="8.9" font-weight="normal" fill="#111" textLength="28.14" lengthAdjust="spacingAndGlyphs">hTLR2</text>
<text x="96.25" y="191.70" font-size="8.9" font-weight="normal" fill="#111" textLength="34.06" lengthAdjust="spacingAndGlyphs">BDCA-2</text>
<text x="173.25" y="191.70" font-size="8.9" font-weight="normal" fill="#111" textLength="28.14" lengthAdjust="spacingAndGlyphs">hCD40</text>
<text x="243.60" y="191.70" font-size="8.9" font-weight="normal" fill="#111" textLength="28.79" lengthAdjust="spacingAndGlyphs">hCD86</text>
<text x="26.50" y="299.80" font-size="8.9" font-weight="normal" fill="#111" textLength="27.64" lengthAdjust="spacingAndGlyphs">hTLR2</text>
<text x="96.75" y="299.80" font-size="8.9" font-weight="normal" fill="#111" textLength="33.56" lengthAdjust="spacingAndGlyphs">BDCA-2</text>
<text x="173.25" y="299.80" font-size="8.9" font-weight="normal" fill="#111" textLength="28.14" lengthAdjust="spacingAndGlyphs">hCD40</text>
<text x="248.25" y="299.80" font-size="8.9" font-weight="normal" fill="#111" textLength="28.39" lengthAdjust="spacingAndGlyphs">hCD86</text>
<text x="26.50" y="395.20" font-size="8.9" font-weight="normal" fill="#111" textLength="27.64" lengthAdjust="spacingAndGlyphs">hTLR2</text>
<text x="96.75" y="395.20" font-size="8.9" font-weight="normal" fill="#111" textLength="34.06" lengthAdjust="spacingAndGlyphs">BDCA-2</text>
<text x="174.00" y="395.20" font-size="8.9" font-weight="normal" fill="#111" textLength="28.14" lengthAdjust="spacingAndGlyphs">hCD40</text>
<text x="247.00" y="395.20" font-size="8.9" font-weight="normal" fill="#111" textLength="28.39" lengthAdjust="spacingAndGlyphs">hCD86</text>
<text transform="translate(6.30,88.80) rotate(-90)" x="0" y="0" font-size="7.1" font-weight="normal" fill="#111" textLength="65.33" lengthAdjust="spacingAndGlyphs">Relative cell number</text>
<text transform="translate(6.30,180.80) rotate(-90)" x="0" y="0" font-size="7.1" font-weight="normal" fill="#111" textLength="64.63" lengthAdjust="spacingAndGlyphs">Relative cell number</text>
<text transform="translate(6.30,287.70) rotate(-90)" x="0" y="0" font-size="7.1" font-weight="normal" fill="#111" textLength="65.73" lengthAdjust="spacingAndGlyphs">Relative cell number</text>
<text transform="translate(6.30,383.30) rotate(-90)" x="0" y="0" font-size="7.1" font-weight="normal" fill="#111" textLength="65.13" lengthAdjust="spacingAndGlyphs">Relative cell number</text>
<text transform="translate(316.80,105.45) rotate(-90)" x="0" y="0" font-size="8.9" font-weight="normal" fill="#111" textLength="62.31" lengthAdjust="spacingAndGlyphs">Log2 (pDC/cDC)</text>
<text transform="translate(316.80,234.95) rotate(-90)" x="0" y="0" font-size="8.9" font-weight="normal" fill="#111" textLength="62.61" lengthAdjust="spacingAndGlyphs">Log2 (pDC/cDC)</text>
<text transform="translate(318.60,369.35) rotate(-90)" x="0" y="0" font-size="8.9" font-weight="normal" fill="#111" textLength="64.66" lengthAdjust="spacingAndGlyphs">Log2  (pDC/cDC)</text>
<text x="382.85" y="13.60" font-size="8.2" font-weight="normal" fill="#111" textLength="88.62" lengthAdjust="spacingAndGlyphs">CMP-derived pDC/cDC</text>
<text x="382.85" y="143.20" font-size="8.2" font-weight="normal" fill="#111" textLength="85.91" lengthAdjust="spacingAndGlyphs">CLP-derived pDC/cDC</text>
<text x="381.10" y="277.60" font-size="8.2" font-weight="normal" fill="#111" textLength="85.51" lengthAdjust="spacingAndGlyphs">Human BM pDC/cDC</text>
</svg></body></html>
